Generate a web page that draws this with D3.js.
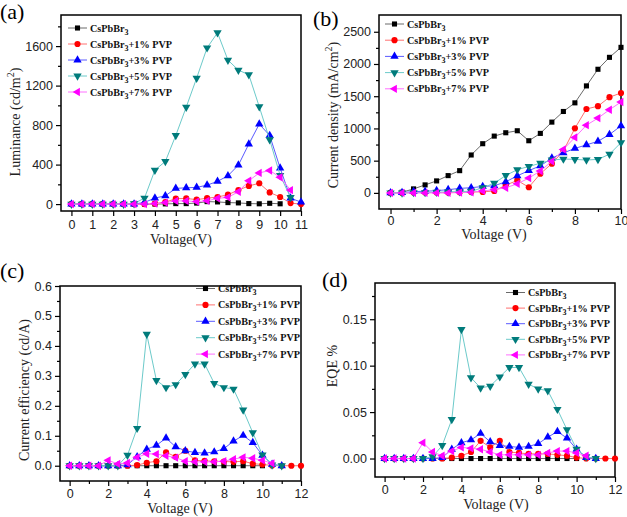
<!DOCTYPE html>
<html><head><meta charset="utf-8">
<script src="https://cdn.jsdelivr.net/npm/d3@7"></script>
<style>body{margin:0;background:#fff}svg{display:block}</style>
</head><body>
<svg id="chart" width="627" height="517"></svg>
<script>
// ---------- DATA ----------
const seriesNames = ["CsPbBr3", "CsPbBr3+1% PVP", "CsPbBr3+3% PVP", "CsPbBr3+5% PVP", "CsPbBr3+7% PVP"];

// (a) Luminance
const voltA = [0,0.5,1,1.5,2,2.5,3,3.5,4,4.5,5,5.5,6,6.5,7,7.5,8,8.5,9,9.5,10,10.5,11];
const lumA0 = [0,0,0,0,0,0,0,0,0,2,5,5,10,25,22,15,12,5,3,8,3];
const lumA1 = [0,0,0,0,0,0,0,0,5,20,55,57,45,60,72,95,142,184,211,118,72,10,0];
const lumA3 = [0,0,0,0,0,0,0,17,61,84,159,165,169,192,230,287,395,608,810,695,365,60,20];
const lumA5 = [0,0,0,0,0,0,5,61,344,432,695,982,1276,1583,1735,1458,1357,1310,986,652,290,67];
const lumA7 = [0,0,0,0,0,0,0,0,5,15,32,32,25,33,58,68,125,236,316,340,272,142];
const yTicksA = [0,400,800,1200,1600];
const xTicksA = [0,1,2,3,4,5,6,7,8,9,10,11];

// (b) Current density
const voltB = [0,0.5,1,1.5,2,2.5,3,3.5,4,4.5,5,5.5,6,6.5,7,7.5,8,8.5,9,9.5,10];
const curB0 = [0,10,62,124,186,268,345,588,763,881,933,964,809,923,1098,1263,1397,1660,1918,2103,2258];
const curB1 = [0,0,5,5,5,5,10,15,15,30,120,193,88,297,454,650,1002,1302,1345,1485,1550];
const curB3 = [0,5,20,25,35,50,70,80,100,110,172,265,345,420,540,620,690,745,800,905,1040];
const curB5 = [0,0,5,5,10,15,20,25,80,150,270,360,410,460,510,525,520,510,520,600,780];
const curB7 = [0,0,0,0,0,0,5,10,30,50,80,140,230,340,490,675,860,1050,1160,1290,1410];
const yTicksB = [0,500,1000,1500,2000,2500];
const xTicksB = [0,2,4,6,8,10];

// (c) Current efficiency
const voltC = [0,0.5,1,1.5,2,2.5,3,3.5,4,4.5,5,5.5,6,6.5,7,7.5,8,8.5,9,9.5,10,10.5,11,11.5,12];
const effC0 = [0,0,0,0,0,0,0,0,0,0,0,0,0,0,0,0,0,0,0,0,0];
const effC1 = [0,0,0,0,0,0,0,0.002,0.01,0.015,0.045,0.03,0.05,0.018,0.016,0.015,0.014,0.013,0.015,0.007,0.004,0.001,0,0,0];
const effC3 = [0,0,0,0,0,0,0.003,0.03,0.055,0.068,0.092,0.063,0.05,0.044,0.042,0.046,0.057,0.082,0.101,0.077,0.035,0.005,0];
const effC5 = [0,0,0,0,0,0,0.035,0.125,0.439,0.285,0.261,0.271,0.305,0.34,0.34,0.275,0.261,0.256,0.186,0.11,0.036,0.003,0];
const effC7 = [0,0,0,0,0.018,0.006,0.009,0.028,0.04,0.039,0.033,0.027,0.015,0.013,0.013,0.013,0.015,0.022,0.028,0.025,0.018,0.008];
const yTicksC = [0,0.1,0.2,0.3,0.4,0.5,0.6];
const xTicksC = [0,2,4,6,8,10,12];

// (d) EQE
const voltD = voltC;
const eqeD0 = [0,0,0,0,0,0,0,0,0,0,0,0,0,0,0,0,0,0,0,0,0];
const eqeD1 = [0,0,0,0,0,0,0,0.001,0.003,0.007,0.019,0.012,0.019,0.007,0.006,0.005,0.005,0.005,0.004,0.003,0.001,0,0,0,0];
const eqeD3 = [0,0,0,0,0,0,0.001,0.01,0.017,0.02,0.027,0.018,0.014,0.013,0.012,0.013,0.016,0.023,0.029,0.022,0.01,0.001,0];
const eqeD5 = [0,0,0,0,0,0.002,0.014,0.042,0.139,0.087,0.076,0.078,0.088,0.098,0.098,0.08,0.075,0.073,0.053,0.031,0.01,0.002,0];
const eqeD7 = [0,0,0,0,0.017,0.007,0.003,0.008,0.012,0.011,0.01,0.007,0.004,0.004,0.004,0.004,0.004,0.006,0.008,0.008,0.006,0.003];
const yTicksD = [0,0.05,0.1,0.15];
const xTicksD = [0,2,4,6,8,10,12];

// ---------- STYLE ----------
const markerColors = ["#000000", "#ff0000", "#0000ff", "#007b7b", "#ff00ff"];
const lineColors   = ["#6a6a6a", "#ff7070", "#5a5aff", "#6ccaca", "#ff70ff"];
const symbols = [
  {t: d3.symbolSquare, s: 26, r: 0},
  {t: d3.symbolCircle, s: 30, r: 0},
  {t: d3.symbolTriangle, s: 30, r: 0},
  {t: d3.symbolTriangle, s: 30, r: 180},
  {t: d3.symbolTriangle, s: 30, r: -90}
];

const svg = d3.select("#chart");
svg.append("rect").attr("width", 627).attr("height", 517).attr("fill", "#fff");

function legendLabel(sel, name) {
  const rest = name.slice(7);
  sel.append("tspan").text("CsPbBr");
  sel.append("tspan").attr("font-size", 8).attr("dy", 3).text("3");
  if (rest) sel.append("tspan").attr("dy", -3).text(rest);
}

function panel(cfg) {
  const g = svg.append("g");
  const x = d3.scaleLinear().domain(cfg.xDomain).range([cfg.left, cfg.right]);
  const y = d3.scaleLinear().domain(cfg.yDomain).range([cfg.bottom, cfg.top]);

  // axes
  const xAxis = d3.axisBottom(x).tickValues(cfg.xTicks).tickSize(5).tickPadding(cfg.xPad).tickFormat(d3.format("d"));
  g.append("g").attr("transform", `translate(0,${cfg.bottom})`).call(xAxis);
  if (cfg.xMinor) g.append("g").attr("transform", `translate(0,${cfg.bottom})`)
      .call(d3.axisBottom(x).tickValues(cfg.xMinor).tickSize(3).tickFormat(""));
  const yAxis = d3.axisLeft(y).tickValues(cfg.yTicks).tickSize(5).tickPadding(3).tickFormat(d3.format(cfg.yFmt));
  g.append("g").attr("transform", `translate(${cfg.left},0)`).call(yAxis);
  if (cfg.yMinor) g.append("g").attr("transform", `translate(${cfg.left},0)`)
      .call(d3.axisLeft(y).tickValues(cfg.yMinor).tickSize(3).tickFormat(""));
  g.selectAll(".domain").remove();
  g.selectAll(".tick line").attr("stroke", "#000").attr("stroke-width", 1.2);
  g.selectAll(".tick text").attr("font-family", "Liberation Sans, Arial, sans-serif")
    .attr("font-size", 12.5).attr("fill", "#222");

  // frame
  g.append("rect").attr("x", cfg.left).attr("y", cfg.top)
    .attr("width", cfg.right - cfg.left).attr("height", cfg.bottom - cfg.top)
    .attr("fill", "none").attr("stroke", "#000").attr("stroke-width", 1.5);

  // series
  const line = d3.line().x(d => x(d[0])).y(d => y(d[1]));
  cfg.series.forEach((vals, i) => {
    const pts = vals.map((v, k) => [cfg.volt[k], v]).filter(d => d[1] != null);
    g.append("path").datum(pts).attr("d", line).attr("fill", "none")
      .attr("stroke", lineColors[i]).attr("stroke-width", 1);
    const sym = d3.symbol().type(symbols[i].t).size(symbols[i].s);
    g.selectAll(null).data(pts).enter().append("path")
      .attr("d", sym)
      .attr("transform", d => `translate(${x(d[0])},${y(d[1])}) rotate(${symbols[i].r})`)
      .attr("fill", markerColors[i]);
  });

  // legend
  seriesNames.forEach((name, i) => {
    const ly = cfg.legY + i * cfg.legDy;
    g.append("line").attr("x1", cfg.legX).attr("x2", cfg.legX + 19).attr("y1", ly).attr("y2", ly)
      .attr("stroke", lineColors[i]).attr("stroke-width", 1);
    g.append("path").attr("d", d3.symbol().type(symbols[i].t).size(symbols[i].s)())
      .attr("transform", `translate(${cfg.legX + 9.5},${ly}) rotate(${symbols[i].r})`)
      .attr("fill", markerColors[i]);
    const t = g.append("text").attr("x", cfg.legX + 22).attr("y", ly + 3.5)
      .attr("font-family", "Liberation Serif, Times New Roman, serif")
      .attr("font-weight", "bold").attr("font-size", 10.2).attr("fill", "#111");
    legendLabel(t, name);
  });

  // titles
  g.append("text").attr("x", cfg.xTitleX).attr("y", cfg.xTitleY).attr("text-anchor", "middle")
    .attr("font-family", "Liberation Serif, Times New Roman, serif").attr("font-size", 14).attr("fill", "#222")
    .text(cfg.xTitle);
  const yt = g.append("text").attr("transform", `translate(${cfg.yTitleX},${cfg.yTitleY}) rotate(-90)`)
    .attr("text-anchor", "middle")
    .attr("font-family", "Liberation Serif, Times New Roman, serif").attr("font-size", 14).attr("fill", "#222");
  yt.append("tspan").text(cfg.yTitle[0]);
  if (cfg.yTitle.length > 1) {
    yt.append("tspan").attr("font-size", 10).attr("dy", -6).text(cfg.yTitle[1]);
    yt.append("tspan").attr("dy", 6).text(cfg.yTitle[2]);
  }
  svg.append("text").attr("x", cfg.labX).attr("y", cfg.labY)
    .attr("font-family", "Liberation Serif, Times New Roman, serif").attr("font-size", 22).attr("fill", "#000")
    .text(cfg.label);
}

panel({
  label: "(a)", labX: 0, labY: 19,
  left: 61, right: 301, top: 15, bottom: 211,
  xDomain: [-0.5, 11], yDomain: [-70, 1915],
  xTicks: xTicksA, yTicks: yTicksA, yFmt: "d", xPad: 4,
  yMinor: [200,600,1000,1400,1800],
  volt: voltA, series: [lumA0, lumA1, lumA3, lumA5, lumA7],
  legX: 68, legY: 28, legDy: 16,
  xTitle: "Voltage(V)", xTitleX: 181, xTitleY: 244,
  yTitle: ["Luminance (cd/m", "2", ")"], yTitleX: 20, yTitleY: 122
});
panel({
  label: "(b)", labX: 313, labY: 26,
  left: 379, right: 621, top: 15, bottom: 209,
  xDomain: [-0.5, 10], yDomain: [-250, 2760],
  xTicks: xTicksB, yTicks: yTicksB, yFmt: "d", xPad: 2,
  xMinor: [1,3,5,7,9], yMinor: [250,750,1250,1750,2250],
  volt: voltB, series: [curB0, curB1, curB3, curB5, curB7],
  legX: 385, legY: 24, legDy: 16.2,
  xTitle: "Voltage (V)", xTitleX: 494, xTitleY: 239,
  yTitle: ["Current density (mA/cm", "2", ")"], yTitleX: 338, yTitleY: 115
});
panel({
  label: "(c)", labX: 0, labY: 278,
  left: 60, right: 301, top: 286, bottom: 481,
  xDomain: [-0.5, 12], yDomain: [-0.051, 0.6],
  xTicks: xTicksC, yTicks: yTicksC, yFmt: ".1f", xPad: 3,
  xMinor: [1,3,5,7,9,11], yMinor: [0.05,0.15,0.25,0.35,0.45,0.55],
  volt: voltC, series: [effC0, effC1, effC3, effC5, effC7],
  legX: 196, legY: 288.5, legDy: 16.4,
  xTitle: "Voltage (V)", xTitleX: 180, xTitleY: 513,
  yTitle: ["Current efficiency (cd/A)"], yTitleX: 29, yTitleY: 390
});
panel({
  label: "(d)", labX: 322, labY: 287,
  left: 375, right: 615, top: 283, bottom: 477,
  xDomain: [-0.5, 12], yDomain: [-0.0199, 0.189],
  xTicks: xTicksD, yTicks: yTicksD, yFmt: ".2f", xPad: 3,
  xMinor: [1,3,5,7,9,11], yMinor: [0.025,0.075,0.125,0.175],
  volt: voltD, series: [eqeD0, eqeD1, eqeD3, eqeD5, eqeD7],
  legX: 506, legY: 292.5, legDy: 15.6,
  xTitle: "Voltage (V)", xTitleX: 496, xTitleY: 509,
  yTitle: ["EQE %"], yTitleX: 337, yTitleY: 366
});
</script>
</body></html>
